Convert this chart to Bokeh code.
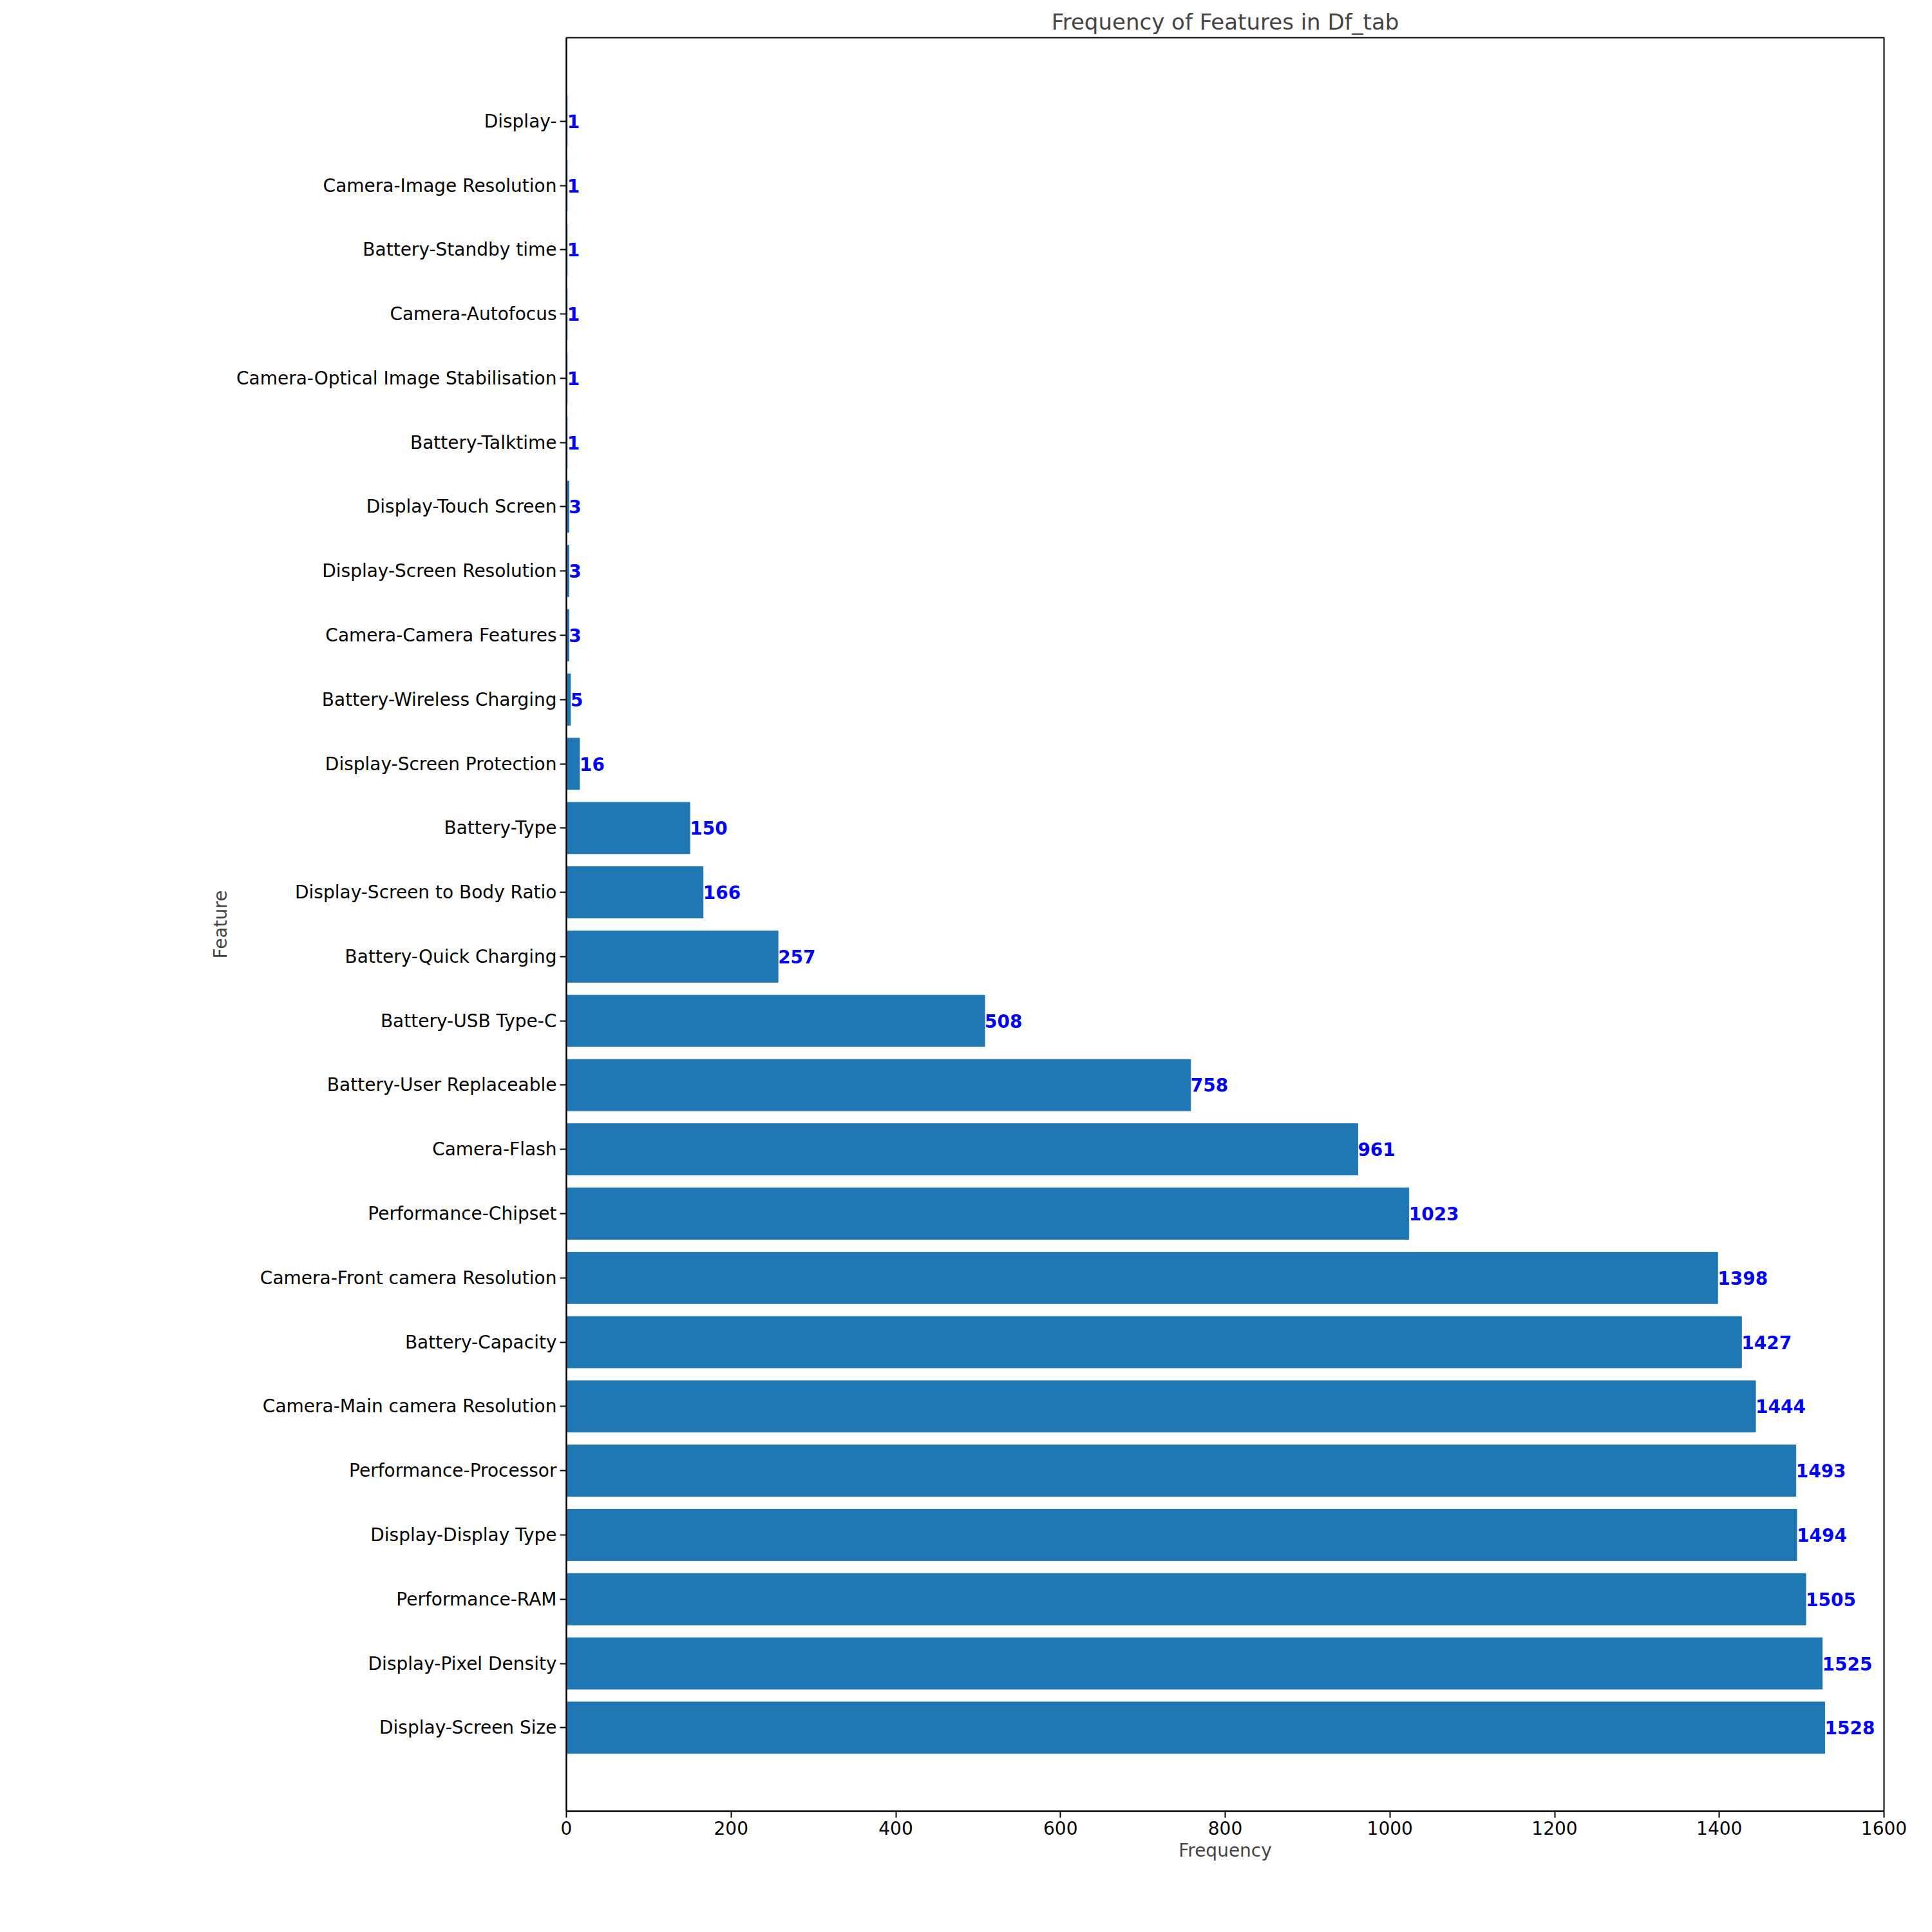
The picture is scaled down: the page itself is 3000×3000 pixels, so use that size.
from bokeh.plotting import figure
from bokeh.models import ColumnDataSource, Range1d, FixedTicker
from bokeh.core.properties import value
from bokeh.embed import file_html
from bokeh.resources import INLINE

features = ["Display-Screen Size", "Display-Pixel Density", "Performance-RAM", "Display-Display Type",
            "Performance-Processor", "Camera-Main camera Resolution", "Battery-Capacity",
            "Camera-Front camera Resolution", "Performance-Chipset", "Camera-Flash",
            "Battery-User Replaceable", "Battery-USB Type-C", "Battery-Quick Charging",
            "Display-Screen to Body Ratio", "Battery-Type", "Display-Screen Protection",
            "Battery-Wireless Charging", "Camera-Camera Features", "Display-Screen Resolution",
            "Display-Touch Screen", "Battery-Talktime", "Camera-Optical Image Stabilisation",
            "Camera-Autofocus", "Battery-Standby time", "Camera-Image Resolution", "Display-"]
counts = [1528, 1525, 1505, 1494, 1493, 1444, 1427, 1398, 1023, 961, 758, 508, 257,
          166, 150, 16, 5, 3, 3, 3, 1, 1, 1, 1, 1, 1]

ys = list(range(len(features)))
src = ColumnDataSource(dict(y=ys, v=counts, lab=[str(c) for c in counts]))

FONT = "DejaVu Sans"
p = figure(width=2984, height=2984, output_backend="svg", toolbar_location=None,
           x_range=Range1d(0, 1600), y_range=Range1d(-1.3, len(features) + 0.3),
           title="Frequency of Features in Df_tab",
           min_border_left=879, min_border_right=59, min_border_top=58, min_border_bottom=172)
p.hbar(y="y", right="v", left=0, height=0.8, source=src, color="#1f77b4")
p.text(x="v", y="y", text="lab", source=src, text_color="blue", text_font_style="bold",
       text_font=value(FONT), text_font_size="28px", text_align="left", text_baseline="middle")

p.title.align = "center"
p.title.text_font = FONT
p.title.text_font_size = "34px"
p.title.text_font_style = "normal"
p.xaxis.axis_label = "Frequency"
p.yaxis.axis_label = "Feature"
p.yaxis.ticker = FixedTicker(ticks=ys)
p.yaxis.major_label_overrides = {i: f for i, f in enumerate(features)}
p.xaxis.ticker = FixedTicker(ticks=list(range(0, 1601, 200)))
for ax in (p.xaxis, p.yaxis):
    ax.axis_label_text_font = FONT
    ax.axis_label_text_font_size = "28px"
    ax.axis_label_text_font_style = "normal"
    ax.major_label_text_font = FONT
    ax.major_label_text_font_size = "28px"
    ax.major_label_text_color = "black"
    ax.minor_tick_line_color = None
    ax.major_tick_in = 0
    ax.major_tick_out = 10
    ax.axis_line_width = 2
    ax.major_tick_line_width = 2
p.grid.visible = False
p.outline_line_color = "black"
p.outline_line_width = 2

open("out.html", "w").write(file_html(p, INLINE))
